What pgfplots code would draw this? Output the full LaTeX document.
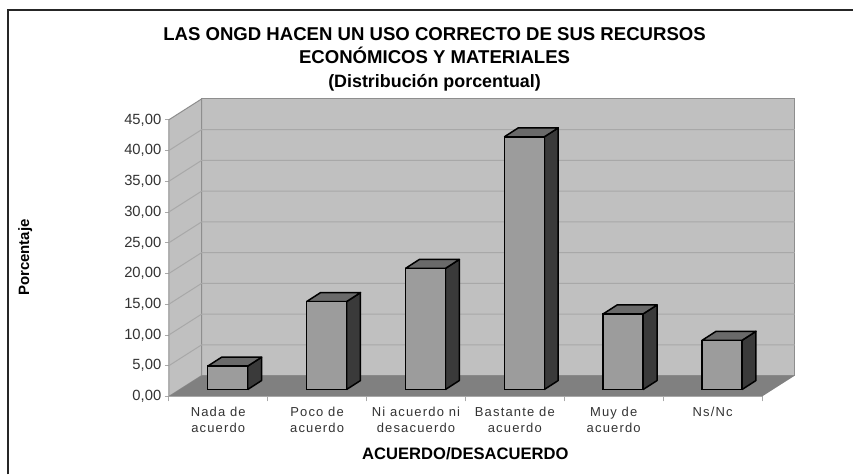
\documentclass[border=0pt]{standalone}
\usepackage{pgfplots}
\usepackage{fontspec}
\setmainfont{Liberation Sans}
\pgfplotsset{compat=1.18}
\definecolor{wall}{HTML}{C0C0C0}
\definecolor{floorc}{HTML}{808080}
\definecolor{gridc}{HTML}{A8A8A8}
\definecolor{edgec}{HTML}{8E8E8E}
\definecolor{frontc}{HTML}{9C9C9C}
\definecolor{topc}{HTML}{6A6A6A}
\definecolor{sidec}{HTML}{3A3A3A}
\definecolor{txt}{HTML}{333333}
\newcommand\gridl[1]{\addplot[gridc,line width=1pt] coordinates {(-0.5,#1) (-0.167,#1+3.41) (5.833,#1+3.41)};}
\newcommand\cubefaces[2]{%
\addplot[fill=sidec,draw=black,line width=1.5pt,line join=round] coordinates {(#1+0.202,0) (#1+0.343,1.46) (#1+0.343,#2+1.46) (#1+0.202,#2) (#1+0.202,0)};
\addplot[fill=topc,draw=black,line width=1.5pt,line join=round] coordinates {(#1-0.202,#2) (#1-0.061,#2+1.46) (#1+0.343,#2+1.46) (#1+0.202,#2) (#1-0.202,#2)};
}
\begin{document}
\begin{tikzpicture}[x=1pt,y=1pt]
\path[fill=white] (0,0) rectangle (854,-475);
\draw[color=black!85,line width=2.2pt] (8,-475) -- (8,-10) -- (854,-10);
\begin{axis}[
  at={(169pt,-397pt)},anchor=south west,
  scale only axis,width=594pt,height=277pt,
  xmin=-0.5,xmax=5.5,ymin=0,ymax=45,
  clip=false,no markers,
  axis line style={draw=none},
  axis on top=false,
  xtick={0,1,2,3,4,5},
  xticklabels={{Nada de\\acuerdo},{Poco de\\acuerdo},{Ni acuerdo ni\\desacuerdo},{Bastante de\\acuerdo},{Muy de\\acuerdo},{Ns/Nc}},
  minor xtick={-0.5,0.5,1.5,2.5,3.5,4.5,5.5},
  major x tick style={draw=none},
  minor x tick style={draw=gridc,line width=0.8pt},
  minor tick length=5pt,
  ytick={0,5,...,45},
  y tick style={draw=gridc,line width=0.8pt},
  tick align=outside,tick pos=left,
  major tick length=4pt,
  /pgf/number format/.cd,fixed,fixed zerofill,precision=2,use comma,assume math mode=true,
  /pgfplots/.cd,
  yticklabel style={font=\fontsize{14.8}{16}\selectfont,text=txt,xshift=0pt},
  xticklabel style={align=center,anchor=north,text=txt,yshift=-3pt,
    font=\fontsize{13}{16.5}\addfontfeatures{LetterSpace=9}\selectfont},
  title={\textbf{LAS ONGD HACEN UN USO CORRECTO DE SUS RECURSOS}\\\textbf{ECONÓMICOS Y MATERIALES}\\{\fontsize{17.9}{23.5}\selectfont\textbf{(Distribución porcentual)}}},
  title style={at={(rel axis cs:0.448,1.198)},anchor=center,align=center,
    font=\fontsize{18.6}{23.5}\selectfont},
  xlabel={\textbf{ACUERDO/DESACUERDO}},
  xlabel style={at={(rel axis cs:0.5,-0.208)},anchor=center,font=\fontsize{16.6}{18}\selectfont},
  ylabel={\textbf{Porcentaje}},
  ylabel style={at={(rel axis cs:-0.242,0.502)},anchor=center,rotate=0,font=\fontsize{15}{17}\selectfont},
]
\addplot[fill=wall,draw=edgec,line width=1pt] coordinates {(-0.167,3.41) (5.833,3.41) (5.833,48.41) (-0.167,48.41) (-0.167,3.41)};
\addplot[fill=wall,draw=edgec,line width=1pt] coordinates {(-0.5,0) (-0.167,3.41) (-0.167,48.41) (-0.5,45) (-0.5,0)};
\gridl{5}\gridl{10}\gridl{15}\gridl{20}\gridl{25}\gridl{30}\gridl{35}\gridl{40}
\addplot[fill=floorc,draw=none] coordinates {(-0.5,0) (5.5,0) (5.833,3.41) (-0.167,3.41) (-0.5,0)};
\addplot[gridc,line width=1pt] coordinates {(-0.5,0) (5.5,0)};
\end{axis}
\begin{axis}[
  at={(178.5pt,-390pt)},anchor=south west,
  scale only axis,width=594pt,height=277pt,
  xmin=-0.5,xmax=5.5,ymin=0,ymax=45,
  clip=false,hide axis,no markers,
]
\cubefaces{0}{3.8}
\cubefaces{1}{14.3}
\cubefaces{2}{19.7}
\cubefaces{3}{41.1}
\cubefaces{4}{12.3}
\cubefaces{5}{8.0}
\addplot[ybar,bar width=40pt,fill=frontc,draw=black,line width=1.5pt] coordinates {(0,3.8) (1,14.3) (2,19.7) (3,41.1) (4,12.3) (5,8.0)};
\end{axis}
\end{tikzpicture}
\end{document}
